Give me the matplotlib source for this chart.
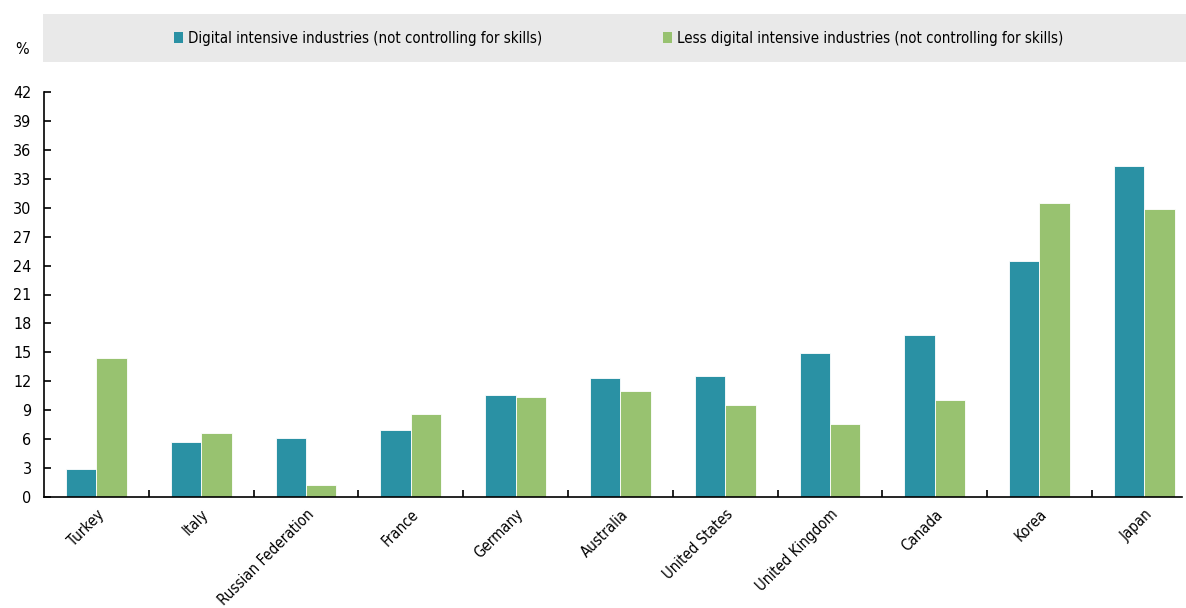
import matplotlib
matplotlib.use("Agg")
import matplotlib.pyplot as plt
from matplotlib.patches import Rectangle, Patch
from matplotlib import font_manager
import numpy as np

countries = ["Turkey", "Italy", "Russian Federation", "France", "Germany", "Australia",
             "United States", "United Kingdom", "Canada", "Korea", "Japan"]
digital = [2.9, 5.7, 6.1, 7.0, 10.6, 12.3, 12.6, 14.9, 16.8, 24.5, 34.3]
less_digital = [14.4, 6.6, 1.2, 8.6, 10.4, 11.0, 9.5, 7.6, 10.1, 30.5, 29.9]
yticks = list(range(0, 43, 3))
labels = ["Digital intensive industries (not controlling for skills)",
          "Less digital intensive industries (not controlling for skills)"]

teal = "#2A91A4"
green = "#98C270"

# pick a narrow font if one is installed
fp_file = None
found = "none"
for f in font_manager.fontManager.ttflist:
    if f.name == "Liberation Sans Narrow" and f.weight in (400, "normal") and f.style == "normal":
        fp_file = f.fname; found = "LSN"; break
if fp_file is None:
    for f in font_manager.fontManager.ttflist:
        if f.name == "DejaVu Sans" and "Condensed" in f.fname and "Bold" not in f.fname and "Oblique" not in f.fname:
            fp_file = f.fname; found = "DVC"; break

if fp_file is not None:
    def FP(size):
        return font_manager.FontProperties(fname=fp_file, size=size)
    SZ, SZY = (12.5, 12.5) if found == "LSN" else (10.8, 11.5)
else:
    def FP(size):
        return font_manager.FontProperties(family="Liberation Sans", size=size)
    SZ, SZY = 10.5, 11

W, H = 1186, 608
fig = plt.figure(figsize=(W / 100, H / 100), dpi=100)
ax = fig.add_axes([44 / W, 1 - 497 / H, (1182 - 44) / W, (497 - 92) / H])

x = np.arange(len(countries))
bw = 0.29
ax.bar(x - bw / 2, digital, bw, color=teal, edgecolor="white", linewidth=0.6, label=labels[0])
ax.bar(x + bw / 2, less_digital, bw, color=green, edgecolor="white", linewidth=0.6, label=labels[1])

ax.set_xlim(-0.5, 10.36)
ax.set_ylim(0, 42)
ax.set_yticks(yticks)
ax.set_yticklabels([str(v) for v in yticks], fontproperties=FP(SZY))
ax.set_xticks(x)
ax.set_xticklabels(countries, rotation=45, ha="right", rotation_mode="anchor", fontproperties=FP(SZ))
ax.tick_params(axis="x", which="major", length=0, pad=7)
ax.set_xticks(x[:-1] + 0.5, minor=True)
ax.tick_params(axis="x", which="minor", direction="in", length=5, width=1.2, color="black")
ax.tick_params(axis="y", direction="in", length=5, width=1.2, color="black", pad=9)
for s in ["top", "right"]:
    ax.spines[s].set_visible(False)
ax.spines["left"].set_linewidth(1.2)
ax.spines["bottom"].set_linewidth(1.2)

# legend band
fig.patches.append(Rectangle((43 / W, 1 - 62 / H), (W - 43) / W, 48 / H,
                             transform=fig.transFigure, facecolor="#E9E9E9",
                             edgecolor="none", zorder=0))
for lab, col, xpos in [(labels[0], teal, 174), (labels[1], green, 663)]:
    fig.legend([Patch(facecolor=col)], [lab], loc="center left",
               bbox_to_anchor=(xpos / W, 1 - 38 / H), frameon=False, prop=FP(SZ),
               handlelength=0.6, handleheight=0.8, handletextpad=0.35,
               borderpad=0, borderaxespad=0)

fig.text(22 / W, 1 - 50 / H, "%", fontproperties=FP(SZY), ha="center", va="center")

fig.savefig("out.png", dpi=100)
